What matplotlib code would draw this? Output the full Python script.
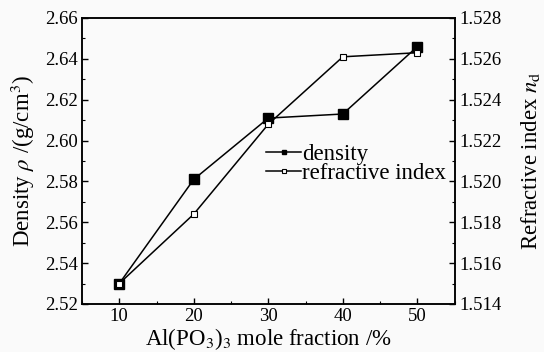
import matplotlib
matplotlib.use("Agg")
import matplotlib.pyplot as plt
from matplotlib.ticker import MultipleLocator

plt.rcParams['font.family'] = ['Liberation Serif', 'DejaVu Serif']
plt.rcParams['mathtext.fontset'] = 'stix'
plt.rcParams['font.size'] = 13.5

# dados
fracao = [10, 20, 30, 40, 50]
densidade = [2.530, 2.581, 2.611, 2.613, 2.646]
indice_refr = [1.5150, 1.5184, 1.5228, 1.5261, 1.5263]

fig = plt.figure(figsize=(5.44, 3.52), dpi=100, facecolor='#fafafa')
ax = fig.add_axes([0.1507, 0.1364, 0.685, 0.8125], facecolor='#fafafa')
ax2 = ax.twinx()

l1, = ax.plot(fracao, densidade, '-', color='black', lw=1.1,
              marker='s', ms=6.5, mfc='black', mec='black')
l2, = ax2.plot(fracao, indice_refr, '-', color='black', lw=1.1,
               marker='s', ms=5, mfc='white', mec='black', mew=0.8)

ax.set_xlim(5, 55)
ax.set_ylim(2.52, 2.66)
ax2.set_ylim(1.514, 1.528)

ax.xaxis.set_major_locator(MultipleLocator(10))
ax.xaxis.set_minor_locator(MultipleLocator(5))
ax.yaxis.set_major_locator(MultipleLocator(0.02))
ax.yaxis.set_minor_locator(MultipleLocator(0.01))
ax2.yaxis.set_major_locator(MultipleLocator(0.002))
ax2.yaxis.set_minor_locator(MultipleLocator(0.001))

ax.yaxis.set_major_formatter(plt.FormatStrFormatter('%.2f'))
ax2.yaxis.set_major_formatter(plt.FormatStrFormatter('%.3f'))

for a in (ax, ax2):
    a.tick_params(which='major', direction='in', length=4, width=1)
    a.tick_params(which='minor', direction='in', length=2.5, width=0.8)
    for s in a.spines.values():
        s.set_linewidth(1.1)
ax.tick_params(axis='both', which='both', pad=3)
ax.tick_params(axis='y', right=False)

rotulo = 16.5
ax.set_xlabel(r'Al(PO$_3$)$_3$ mole fraction /%', fontsize=rotulo, labelpad=0.5)
ax.set_ylabel(r'Density $\rho$ /(g/cm$^3$)', fontsize=rotulo, labelpad=6)
ax2.set_ylabel(r'Refractive index $n_\mathrm{d}$', fontsize=rotulo, labelpad=12.5)

leg = ax.legend([l1, l2], ['density', 'refractive index'],
                loc='upper left', bbox_to_anchor=(0.452, 0.615),
                frameon=False, handlelength=1.5, handletextpad=0.05,
                labelspacing=-0.08, markerscale=0.55, borderpad=0.2,
                fontsize=16.5)

fig.savefig('out.png', dpi=100, facecolor=fig.get_facecolor())
